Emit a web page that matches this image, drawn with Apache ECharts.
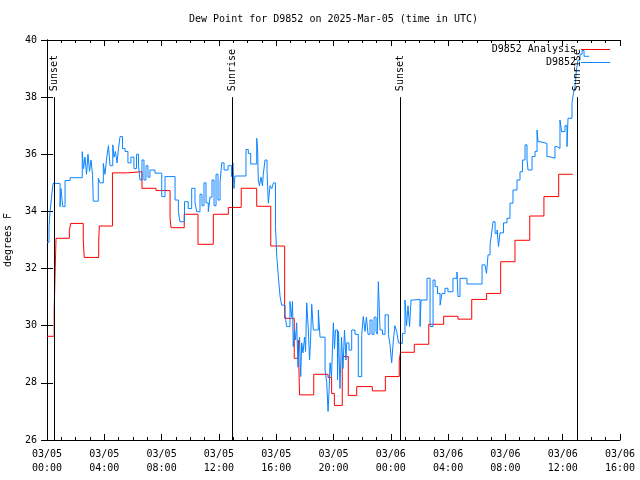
<!DOCTYPE html>
<html><head><meta charset="utf-8">
<script src="https://cdn.jsdelivr.net/npm/echarts@6/dist/echarts.min.js"></script>
<style>html,body{margin:0;padding:0;background:#fff}#c{width:640px;height:480px}</style>
</head><body><div id="c"></div>
<script>
const chartTitle = 'Dew Point for D9852 on 2025-Mar-05 (time in UTC)';
const yAxisName = 'degrees F';
const seriesNames = ['D9852 Analysis', 'D9852'];
// x tick labels every 4 hours from 03/05 00:00 (hours since start)
const xTickLabels = ['03/05\n00:00','03/05\n04:00','03/05\n08:00','03/05\n12:00','03/05\n16:00','03/05\n20:00',
  '03/06\n00:00','03/06\n04:00','03/06\n08:00','03/06\n12:00','03/06\n16:00'];
const yTickValues = [26, 28, 30, 32, 34, 36, 38, 40];
// sun events (hours since 03/05 00:00 UTC)
const eventNames = ['Sunset', 'Sunrise', 'Sunset', 'Sunrise'];
const eventHours = [0.49, 12.91, 24.64, 37.0];
// analysis dew point [hour, degF]
const analysis = [[0,29.63],[0.50,30.49],[0.57,31.95],[0.63,33.06],[1.56,33.33],[1.65,33.58],[2.53,33.01],[2.60,32.39],
  [3.61,32.94],[3.65,33.49],[4.57,35.35],[5.61,35.39],[6.63,34.81],[7.61,34.73],[8.59,33.76],[8.66,33.43],[9.58,33.9],
  [10.54,32.85],[11.61,33.9],[12.66,34.14],[13.56,34.81],[14.64,34.18],[15.62,32.79],[16.59,30.26],[17.26,28.86],
  [17.54,29.5],[17.63,27.58],[18.62,28.3],[19.62,28.19],[19.87,27.63],[20.06,27.21],[20.61,28.92],[21.03,27.56],
  [21.62,27.87],[22.71,27.72],[23.62,28.22],[24.59,28.8],[24.68,29.07],[25.64,29.35],[26.65,30.05],[27.69,30.33],
  [28.69,30.23],[29.65,30.92],[30.69,31.13],[31.67,32.24],[32.67,32.99],[33.70,33.84],[34.69,34.52],[35.72,35.3],[36.70,35.3]];
// observed dew point [hour, degF]
const observed = [[0.00,32.92],[0.14,33.44],[0.21,33.99],[0.31,34.46],[0.42,34.98],[0.91,34.17],[0.98,34.8],[1.03,34.5],
  [1.10,34.17],[1.26,35.08],[1.61,35.18],[2.46,36.09],[2.55,35.5],[2.65,35.9],[2.76,35.3],[2.86,36.0],[2.97,35.4],
  [3.07,35.8],[3.18,35.3],[3.23,34.36],[3.58,35.16],[3.70,35.0],[3.93,35.68],[4.05,35.3],[4.17,35.9],[4.29,36.3],
  [4.40,35.6],[4.59,36.33],[4.68,35.9],[4.78,36.1],[4.89,35.7],[4.99,36.2],[5.10,36.62],[5.27,36.2],[5.45,36.1],
  [5.65,35.7],[5.86,35.9],[6.07,35.5],[6.25,36.0],[6.39,35.6],[6.49,35.1],[6.63,35.8],[6.77,35.1],[6.91,35.6],
  [7.05,35.2],[7.19,35.45],[7.54,35.34],[8.01,34.52],[8.24,35.22],[8.94,34.4],[9.17,34.0],[9.28,33.64],[9.60,34.34],
  [9.86,34.1],[10.10,34.81],[10.33,34.3],[10.45,33.99],[10.68,34.6],[10.82,34.2],[10.96,35.0],[11.10,34.3],[11.26,33.99],
  [11.38,34.5],[11.52,35.1],[11.66,34.2],[11.80,35.3],[11.94,34.4],[12.08,35.0],[12.20,35.7],[12.36,35.45],[12.64,35.6],
  [12.89,35.22],[12.98,35.7],[13.05,34.8],[13.12,35.24],[13.89,36.17],[14.05,36.03],[14.22,35.66],[14.64,36.56],
  [14.70,36.2],[14.75,35.1],[14.83,34.9],[14.94,35.2],[15.04,34.9],[15.10,35.3],[15.22,35.8],[15.36,35.4],[15.45,34.29],
  [15.57,34.9],[15.69,34.8],[15.81,35.0],[15.95,33.47],[16.04,32.42],[16.15,31.72],[16.27,31.02],[16.38,30.72],
  [16.62,30.38],[16.73,29.97],[16.96,30.85],[17.07,30.3],[17.14,30.85],[17.19,29.27],[17.28,29.85],[17.35,29.5],
  [17.43,30.1],[17.52,28.55],[17.63,29.6],[17.71,28.22],[17.78,29.4],[17.87,29.05],[17.98,29.6],[18.05,29.1],
  [18.13,30.8],[18.24,29.9],[18.33,28.8],[18.40,29.5],[18.48,30.75],[18.59,29.85],[18.94,30.55],[19.06,29.6],
  [19.41,28.45],[19.53,28.0],[19.62,27.0],[19.69,27.7],[19.76,28.7],[19.86,28.2],[19.99,30.1],[20.07,29.2],
  [20.14,29.85],[20.28,28.1],[20.35,29.8],[20.45,27.8],[20.56,29.6],[20.66,28.5],[20.77,29.85],[20.87,28.8],
  [20.92,29.4],[21.08,29.15],[21.27,29.85],[21.50,29.7],[21.73,28.22],[21.97,29.7],[22.08,30.32],[22.20,29.8],
  [22.30,30.3],[22.41,29.7],[22.55,30.2],[22.69,29.7],[22.83,30.3],[22.97,29.8],[23.06,29.7],[23.13,31.54],
  [23.25,29.85],[23.42,29.7],[23.60,30.38],[23.83,29.7],[23.94,29.35],[24.06,28.7],[24.18,29.5],[24.29,30.0],
  [24.41,29.8],[24.54,29.4],[24.64,29.38],[24.81,29.73],[24.99,30.9],[25.10,30.0],[25.20,30.7],[25.31,29.97],
  [25.41,30.9],[25.55,30.92],[26.04,29.97],[26.11,30.9],[26.53,31.66],[26.74,29.97],[26.95,31.6],[27.09,31.37],
  [27.26,31.13],[27.44,30.72],[27.57,31.13],[27.78,31.31],[27.99,31.19],[28.34,31.66],[28.62,31.88],[28.69,31.02],
  [28.83,31.66],[29.32,31.46],[30.37,32.13],[30.58,32.07],[30.68,31.83],[30.79,32.48],[30.93,32.83],[31.04,33.25],
  [31.14,33.64],[31.28,33.23],[31.42,33.35],[31.52,32.77],[31.62,33.25],[31.87,33.6],[32.11,33.76],[32.32,34.29],
  [32.53,34.75],[32.81,35.1],[33.02,35.39],[33.19,35.8],[33.37,36.33],[33.51,35.8],[33.58,35.45],[33.86,35.92],
  [34.07,36.1],[34.21,36.85],[34.28,36.44],[34.42,36.38],[34.90,35.92],[35.04,35.86],[35.46,36.27],[35.60,36.2],
  [35.81,37.2],[35.92,36.79],[36.02,36.8],[36.16,37.0],[36.30,36.27],[36.37,37.26],[36.65,37.8],[36.75,38.14],
  [36.86,38.37],[36.96,38.95],[37.07,39.3],[37.21,39.5],[37.35,39.63],[37.49,39.43],[37.84,39.43]];

const FONT = 'DejaVu Sans Mono';
const txt = {color: '#000', fontFamily: FONT, fontSize: 10};
const yMin = yTickValues[0], yMax = yTickValues[yTickValues.length - 1];
const xMin = 0, xMax = (xTickLabels.length - 1) * 4;

const eventLines = [];
eventHours.forEach((h, i) => {
  eventLines.push([{coord: [h, yMin], lineStyle: {color: '#000', width: 1, type: 'solid'}, label: {show: false}},
                   {coord: [h, 38.0]}]);
  eventLines.push([{coord: [h, 38.0], lineStyle: {color: 'rgba(0,0,0,0)', width: 1, type: 'solid'},
                    label: {show: true, position: 'insideStart', distance: 6, formatter: eventNames[i],
                            color: '#000', fontFamily: FONT, fontSize: 10}},
                   {coord: [h, yMax]}]);
});

const chart = echarts.init(document.getElementById('c'), null, {renderer: 'canvas'});
const xBase = {type: 'value', min: xMin, max: xMax, interval: 4,
  axisLine: {show: true, lineStyle: {color: '#000', width: 1}},
  axisTick: {show: true, inside: true, length: 6, lineStyle: {color: '#000'}},
  minorTick: {show: true, splitNumber: 4, length: 3, lineStyle: {color: '#000'}},
  splitLine: {show: false}, minorSplitLine: {show: false}};
const yBase = {type: 'value', min: yMin, max: yMax, interval: 2,
  axisLine: {show: true, lineStyle: {color: '#000', width: 1}},
  axisTick: {show: true, inside: true, length: 6, lineStyle: {color: '#000'}},
  splitLine: {show: false}};
chart.setOption({
  animation: false,
  backgroundColor: '#fff',
  title: {text: chartTitle, left: 189, top: 14, padding: 0, textStyle: Object.assign({}, txt, {fontWeight: 'normal'})},
  legend: {data: seriesNames, orient: 'vertical', right: 30, top: 43, align: 'right', padding: 0,
    icon: 'rect', itemWidth: 29, itemHeight: 1, itemGap: 0, textStyle: Object.assign({}, txt, {lineHeight: 13})},
  grid: {left: 47, right: 20, top: 40, bottom: 40, containLabel: false, outerBoundsMode: 'none'},
  xAxis: [
    Object.assign({}, xBase, {position: 'bottom',
      axisLabel: {show: true, margin: 7, lineHeight: 14, showMinLabel: true, showMaxLabel: true,
        formatter: v => xTickLabels[Math.round((v - xMin) / 4)], ...txt}}),
    Object.assign({}, xBase, {position: 'top', axisLabel: {show: false}})
  ],
  yAxis: [
    Object.assign({}, yBase, {position: 'left', name: yAxisName, nameLocation: 'middle', nameGap: 34,
      nameTextStyle: txt, axisLabel: {show: true, margin: 10, ...txt}}),
    Object.assign({}, yBase, {position: 'right', axisLabel: {show: false}})
  ],
  series: [
    {name: seriesNames[0], type: 'line', step: 'end', symbol: 'none', data: analysis,
      color: '#ff0000', lineStyle: {color: '#ff0000', width: 1}},
    {name: seriesNames[1], type: 'line', step: 'end', symbol: 'none', data: observed,
      color: '#0a84ff', lineStyle: {color: '#0a84ff', width: 1}},
    {name: 'events', type: 'line', data: [], markLine: {silent: true, symbol: 'none', animation: false, data: eventLines}}
  ]
});
</script></body></html>
